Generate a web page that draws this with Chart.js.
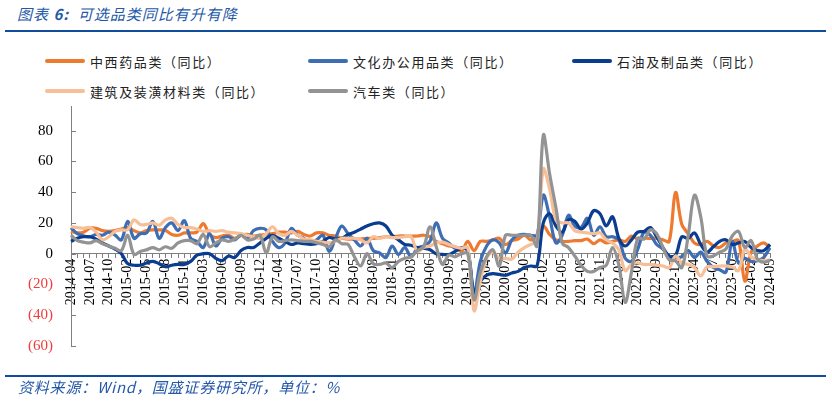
<!DOCTYPE html>
<html>
<head>
<meta charset="utf-8">
<script src="https://cdn.jsdelivr.net/npm/chart.js@4.4.1/dist/chart.umd.min.js"></script>
<style>
body{margin:0;background:#fff;}
#wrap{position:relative;width:832px;height:410px;overflow:hidden;background:#fff;}
#chart{position:absolute;left:0;top:0;}
.rule{position:absolute;left:5px;width:821px;height:2px;background:#0f4c9c;}
#title{position:absolute;left:17px;top:3px;font:italic 15px "Noto Sans CJK SC";letter-spacing:1px;color:#2458a8;white-space:nowrap;}
#source{position:absolute;left:18px;top:376px;font:italic 15px "Noto Sans CJK SC";letter-spacing:0.8px;color:#2458a8;white-space:nowrap;}
.item{position:absolute;height:20px;display:flex;align-items:center;white-space:nowrap;}
.sw{width:40px;height:4px;border-radius:2px;margin-right:5px;}
.lt{font:13px "Noto Sans CJK SC";letter-spacing:1.6px;color:#222;}
</style>
</head>
<body>
<div id="wrap">
  <div id="title">图表 <b style="font-weight:600">6:</b>&nbsp;&nbsp;可选品类同比有升有降</div>
  <div class="rule" style="top:30px"></div>
  <div id="legend"></div>
  <canvas id="chart" width="832" height="410"></canvas>
  <div class="rule" style="top:375px"></div>
  <div id="source">资料来源：Wind，国盛证券研究所，单位：%</div>
</div>
<script>
// months (Jan is merged into Feb in the source data)
const months = [
  '2014-04','2014-05','2014-06','2014-07','2014-08','2014-09','2014-10','2014-11','2014-12',
  '2015-02','2015-03','2015-04','2015-05','2015-06','2015-07','2015-08','2015-09','2015-10','2015-11','2015-12',
  '2016-02','2016-03','2016-04','2016-05','2016-06','2016-07','2016-08','2016-09','2016-10','2016-11','2016-12',
  '2017-02','2017-03','2017-04','2017-05','2017-06','2017-07','2017-08','2017-09','2017-10','2017-11','2017-12',
  '2018-02','2018-03','2018-04','2018-05','2018-06','2018-07','2018-08','2018-09','2018-10','2018-11','2018-12',
  '2019-02','2019-03','2019-04','2019-05','2019-06','2019-07','2019-08','2019-09','2019-10','2019-11','2019-12',
  '2020-02','2020-03','2020-04','2020-05','2020-06','2020-07','2020-08','2020-09','2020-10','2020-11','2020-12',
  '2021-02','2021-03','2021-04','2021-05','2021-06','2021-07','2021-08','2021-09','2021-10','2021-11','2021-12',
  '2022-02','2022-03','2022-04','2022-05','2022-06','2022-07','2022-08','2022-09','2022-10','2022-11','2022-12',
  '2023-02','2023-03','2023-04','2023-05','2023-06','2023-07','2023-08','2023-09','2023-10','2023-11','2023-12',
  '2024-02','2024-03','2024-04','2024-05'
];

const medicine = [
  14.5,13.5,14,16.5,16.5,15,14.5,15,16,
  17,15,13.5,15,15.5,15.5,15,12.5,12,13.5,13.5,
  14,19.5,12.5,10.5,11.5,12,10,12,12.5,11.5,12,
  12.5,13,14,14,13.5,14.5,12.5,11.5,13.5,13.5,12,
  11.5,10,9.5,9.5,9.5,10,10,10.5,11,11,11.5,
  11.5,11.5,11.5,12,11,8,6.5,5,4.5,1.5,8,
  2,8,8,9,10,6,8.5,9.5,12,9,10.5,
  18,12.5,9,8,8,8.5,8.5,9.5,6.5,9,7,
  8,9,8,11.5,9.5,10,10,10,9,8,39.8,
  19,13,7,6,8,5,4,7,8,8.5,-17.8,
  1,5,7,4
];
const office = [
  17,13,11.5,11,12.5,12,14,12,9,
  21,10,13,13.5,21,10,17,20,15,21.5,10,
  8,4,13,5,10,11,9,12,10,15,16.5,
  15.5,8,4,7,16.5,12,10,7,9,12,1.5,
  10,18,13,9,5,10,2,0.5,-2.5,5,-0.5,
  4,-2,3.5,5,8,20,10,7,3.5,4,2,
  -26,-5,5,9,7,0.5,9,12,12.5,12,12,
  38,24,7,12,25,18,17,23,12,17.5,11,
  11,9,-3,-5,3,14,12,6,3,-2,-2.5,
  -2,2,-2.5,1,-5,-9,-10.5,-12,8,-6,-3,
  -5,-4.5,-2.5,4
];
const petroleum = [
  8,10,11,11,9.5,7,5,3,0,
  -6.5,-7.5,-7.5,-6,-5,-6.5,-8.5,-7.5,-7,-7,-5,
  -1,0,0,-3,-4.5,-1.5,-2.5,2,4,4,7,
  10,12,10,8,6,7,6.5,6,6.5,8,10.5,
  9.5,10,12.5,14,16,18,19.5,20,18,12,9,
  6,5.5,4,3.5,2.5,0,-0.5,-0.5,1.5,3.5,2,
  -25,-18,-14,-13,-13.5,-14,-12.5,-11.5,-9,-8,-8,
  20,26,18,14,22,21,16,20,28,26,18,
  24,10,5,9,14,14.5,17,11,4,-1.5,-1,
  11,10,13.5,6,1,4.5,8,9,6,7,8,
  4,2,2,6
];
const building = [
  17.5,17,16.5,17,14,9,11,14.5,15.5,
  15.5,22,19,19,20,18.5,22,23,19,17,17,
  16,14.5,15,14.5,15,14,13.5,13,12,11,10,
  13,17.5,13,12,14.5,12,9.5,9,8,7.5,7,
  8,10,10,10,9,7,11,10,11,10.5,10.5,
  11,11,1.5,4,5,7,7.5,6,4.5,3.5,4,
  -37,-18,-3,1,-3,-3,-3.5,1,4,6,8,
  55,42,22,20,20,15,14,13.5,13,13.5,9,
  7,2.5,-11,-7,-6,-7,-7,-7.5,-8,-9,-1.5,
  -6,-7,-9,-14.5,-8.5,-8.5,-8,-8,-8.5,-11,3,
  -2,-4,-4.5,-4
];
const autos = [
  12,8.5,7.5,7,8.5,6.5,5,3.5,2,
  12,-0.5,1.5,2.5,4,2.5,4.5,3.5,7,8.5,8.5,
  6.5,12.5,4.5,7,9,8,9.5,12,9,9.5,12,
  0.5,11,8,8.5,9,8.5,8,8,7,6,4.5,
  9,6.5,6,-2,-8,0,-6.5,-7,-6,-9,-5,
  -3,-2,2,4.5,17.5,4.5,-7,-1,-2,0,0,
  -30,-12,-2,2.5,-8,12,12,12,12,12,5,
  77,52,30,7,4,-1.5,-7.5,-11.5,-11.5,-9,-7.5,
  4,-7.5,-31.6,-12,10,9.5,15.5,13,4,-4,-4.6,
  -9,11.5,38,24,-1.5,-1.5,1,3,11.5,14.5,4,
  8.5,-3.5,-5.5,-4.4
];

const seriesNames = ['中西药品类（同比）','文化办公用品类（同比）','石油及制品类（同比）','建筑及装潢材料类（同比）','汽车类（同比）'];
const seriesColors = ['#ee7a30','#3f6db3','#0a3d8f','#f7bf98','#939393'];
const yTicks = [-60,-40,-20,0,20,40,60,80];

function makeSet(i, data, order){
  return {
    label: seriesNames[i],
    data: data,
    borderColor: seriesColors[i],
    backgroundColor: seriesColors[i],
    borderWidth: 3.2,
    pointRadius: 0,
    tension: 0.35,
    fill: false,
    order: order
  };
}

// inward tick marks on the y axis
const yTickMarks = {
  id: 'yTickMarks',
  afterDraw(chart){
    const ys = chart.scales.y;
    const ctx = chart.ctx;
    ctx.save();
    ctx.strokeStyle = '#7f7f7f';
    ctx.lineWidth = 1;
    yTicks.forEach((v)=>{
      const py = Math.round(ys.getPixelForValue(v)) + 0.5;
      ctx.beginPath();
      ctx.moveTo(ys.right, py);
      ctx.lineTo(ys.right + 5, py);
      ctx.stroke();
    });
    ctx.restore();
  }
};

const ctx = document.getElementById('chart').getContext('2d');
const chart = new Chart(ctx, {
  type: 'line',
  data: {
    labels: months,
    datasets: [
      makeSet(0, medicine, 5),
      makeSet(1, office, 4),
      makeSet(2, petroleum, 3),
      makeSet(3, building, 2),
      makeSet(4, autos, 1)
    ]
  },
  options: {
    responsive: false,
    animation: false,
    devicePixelRatio: 1,
    layout: { padding: { left: 0, top: 106, right: 62, bottom: 64 } },
    plugins: { legend: { display: false }, tooltip: { enabled: false } },
    scales: {
      x: {
        type: 'category',
        offset: false,
        position: { y: 0 },
        grid: { display: true, drawOnChartArea: false, drawTicks: true, tickLength: 4, color: '#7f7f7f' },
        border: { display: true, color: '#7f7f7f', width: 1 },
        ticks: {
          autoSkip: false,
          minRotation: 90,
          maxRotation: 90,
          padding: 1,
          color: '#000',
          font: { family: 'Liberation Serif', size: 14 },
          callback: (value, index) => index % 3 === 0 ? months[index] : ''
        }
      },
      y: {
        min: -60,
        max: 96,
        afterBuildTicks: (scale) => { scale.ticks = yTicks.map((v)=>({ value: v })); },
        afterFit: (scale) => { scale.width = 71; },
        grid: { display: false, drawTicks: false },
        border: { display: true, color: '#7f7f7f', width: 1 },
        ticks: {
          padding: 18,
          font: { family: 'Liberation Serif', size: 15 },
          color: (c) => c.tick.value < 0 ? '#f03c3c' : '#000',
          callback: (v) => v < 0 ? '(' + (-v) + ')' : String(v)
        }
      }
    }
  },
  plugins: [yTickMarks]
});

// legend built from the datasets
const legendPos = [[45,51],[308,51],[572,51],[45,81],[308,81]];
const legend = document.getElementById('legend');
chart.data.datasets.forEach((ds, i)=>{
  const item = document.createElement('div');
  item.className = 'item';
  item.style.left = legendPos[i][0] + 'px';
  item.style.top = legendPos[i][1] + 'px';
  item.innerHTML = '<div class="sw" style="background:' + ds.borderColor + '"></div><span class="lt">' + ds.label + '</span>';
  legend.appendChild(item);
});
</script>
</body>
</html>
